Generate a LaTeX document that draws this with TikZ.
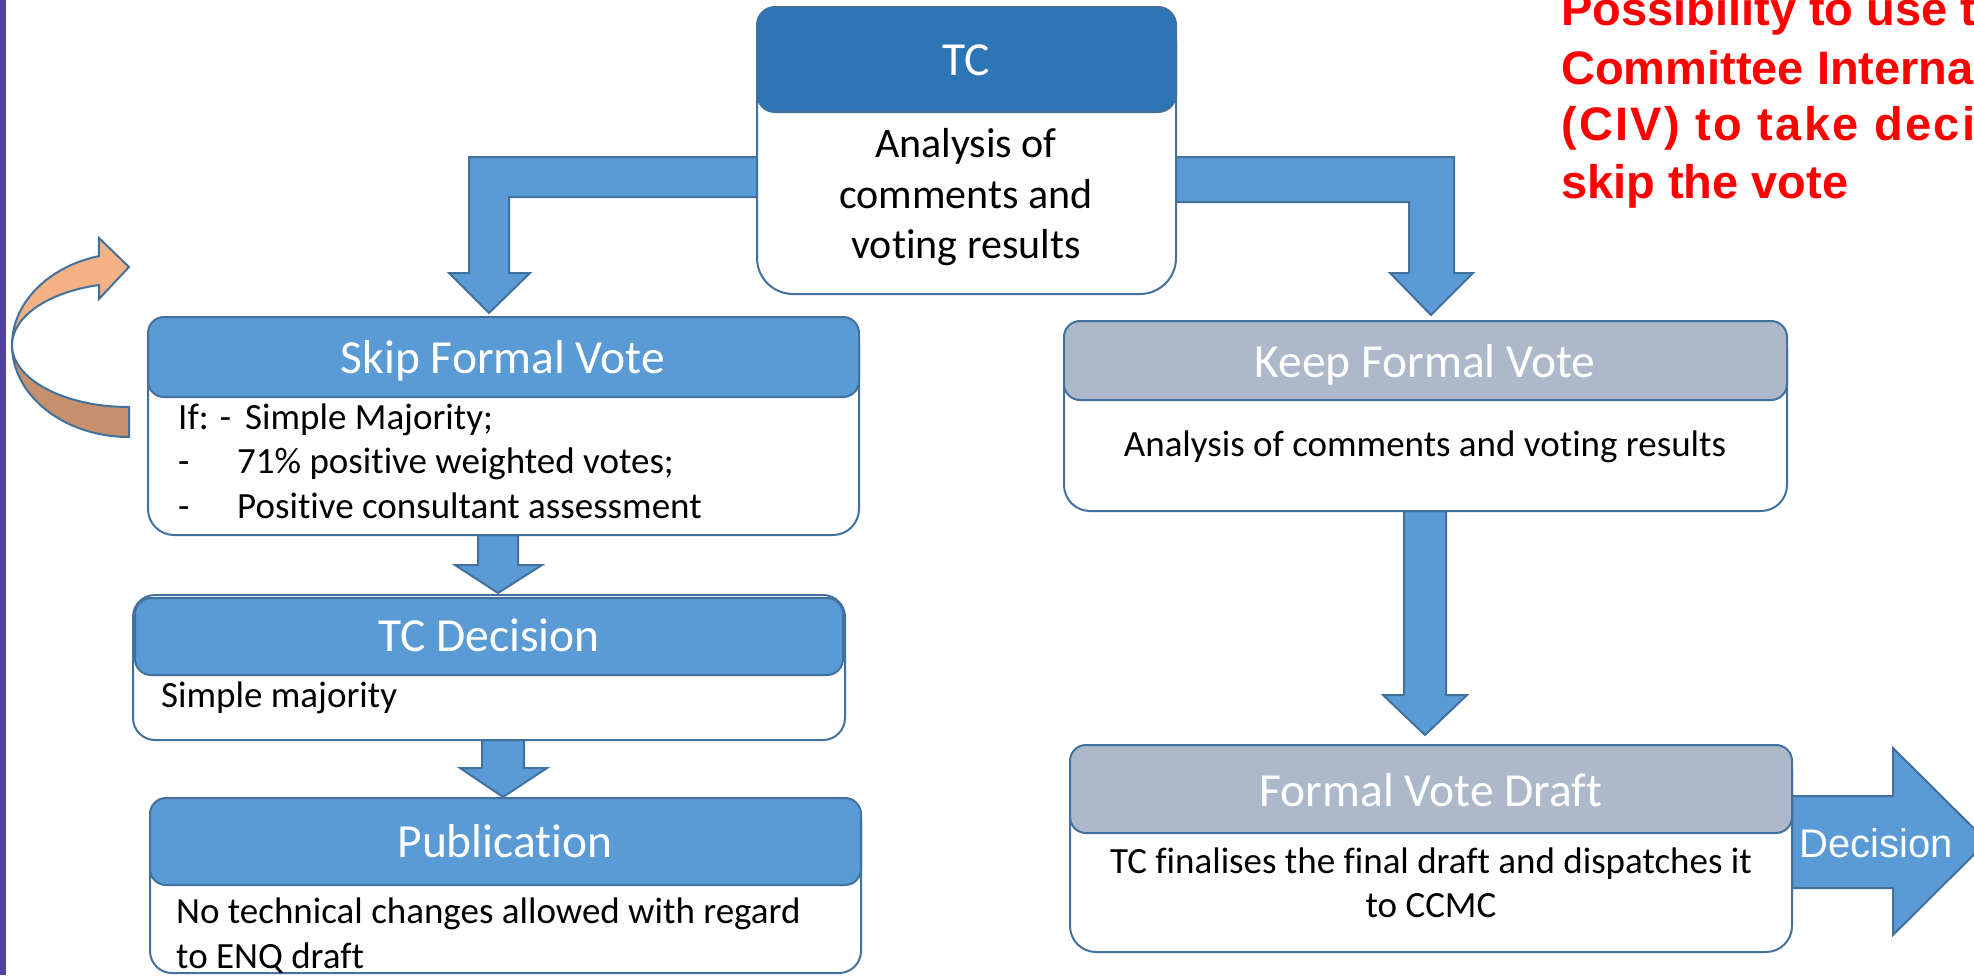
\documentclass[tikz,border=0pt]{standalone}
\usepackage{fontspec}
\setmainfont{Carlito}[Ligatures={NoCommon,NoContextual,NoRequired}]
\newfontfamily\arialfont{Liberation Sans}[Ligatures={NoCommon}]
\newcommand{\nl}{\kern0pt }
\definecolor{edge}{HTML}{41719C}
\definecolor{accent}{HTML}{5B9BD5}
\definecolor{tcblue}{HTML}{2E75B6}
\definecolor{greyhead}{HTML}{ADB9CA}
\definecolor{orangeL}{HTML}{F4B183}
\definecolor{orangeD}{HTML}{C5906B}
\definecolor{purplebar}{HTML}{5243A0}
\definecolor{notered}{HTML}{FF0000}
\begin{document}
\begin{tikzpicture}[x=1pt,y=-1pt,
  bodybox/.style={draw=edge,line width=2pt,fill=white,rounded corners=#1,inner sep=0pt,outer sep=0pt,anchor=north west},
  headbox/.style={draw=edge,line width=2pt,rounded corners=#1,inner sep=0pt,outer sep=0pt,anchor=north west},
  titletext/.style={text=white,font=\fontsize{47.5pt}{57pt}\selectfont,anchor=base,inner sep=0pt},
  bodytext/.style={text=black,font=\fontsize{37pt}{45pt}\selectfont,anchor=base west,inner sep=0pt},
  ctrtext/.style={text=black,font=\fontsize{37pt}{45pt}\selectfont,anchor=base,inner sep=0pt},
  tcbodytext/.style={text=black,font=\fontsize{42pt}{51pt}\selectfont,anchor=base,inner sep=0pt},
  redtext/.style={text=notered,font=\arialfont\bfseries\fontsize{47pt}{57pt}\selectfont,anchor=base west,inner sep=0pt},
  blockarrow/.style={fill=accent,draw=edge,line width=2pt,line join=miter},
  curvearrow/.style={draw=edge,line width=2pt,line join=miter},
]
\useasboundingbox (0,0) rectangle (1974,975);
\clip (0,0) rectangle (1974,975);

% left purple bar
\fill[purplebar] (0,0) rectangle (6,975);

% curved arrow
\path[curvearrow,fill=orangeD] (129,437) arc[start angle=90,end angle=180,x radius=117,y radius=92]
  arc[start angle=180,end angle=90,x radius=117,y radius=62] -- cycle;
\path[curvearrow,fill=orangeL] (12,345) arc[start angle=180,end angle=255.1,x radius=117,y radius=92]
  -- (99,238) -- (129,267) -- (99,299) -- (99,285)
  arc[start angle=255.1,end angle=180,x radius=117,y radius=62] -- cycle;

% block arrows
\path[blockarrow] (757,157) -- (469,157) -- (469,273) -- (449,273) -- (489,313) -- (530,273) -- (509,273) -- (509,197) -- (757,197) -- cycle;
\path[blockarrow] (1176,157) -- (1454,157) -- (1454,273) -- (1473,273) -- (1431,315) -- (1390,273) -- (1409,273) -- (1409,202) -- (1176,202) -- cycle;
\path[blockarrow] (478,535) -- (518,535) -- (518,565) -- (542,565) -- (498,593) -- (455,565) -- (478,565) -- cycle;
\path[blockarrow] (482,739) -- (524,739) -- (524,768) -- (547,768) -- (503,797) -- (460,768) -- (482,768) -- cycle;
\path[blockarrow] (1404,511) -- (1446,511) -- (1446,695) -- (1467,695) -- (1425,735) -- (1383,695) -- (1404,695) -- cycle;
\path[blockarrow] (1792,796) -- (1893,796) -- (1893,748) -- (1987,841.5) -- (1893,935) -- (1893,888) -- (1792,888) -- cycle;

% TC box
\node[bodybox=36pt,minimum width=419pt,minimum height=287pt] (tc) at (757,7) {};
\node[headbox=18pt,fill=tcblue,minimum width=419pt,minimum height=105pt] (tchead) at (757,7) {};
\node[titletext] (tctitle) at (966,75) {TC};
\node[tcbodytext] (tcl1) at (966,157) {Analysis of};
\node[tcbodytext] (tcl2) at (966,208) {comments and};
\node[tcbodytext] (tcl3) at (966,258) {vot\nl ing results};

% Skip Formal Vote
\node[bodybox=26pt,minimum width=711pt,minimum height=218pt] (skip) at (148,317) {};
\node[headbox=16pt,fill=accent,minimum width=711pt,minimum height=80pt] (skiphead) at (148,317) {};
\node[titletext] (skiptitle) at (503,373) {Skip Formal Vote};
\node[bodytext] (skipl1) at (178,429) {If: -\hspace{14pt}Simple Majority;};
\node[bodytext] (skipl2) at (178,473) {\makebox[59pt][l]{-}71\% posit\nl ive weighted votes;};
\node[bodytext] (skipl3) at (178,518) {\makebox[59pt][l]{-}Posit\nl ive consultant assessment};

% TC Decision
\node[bodybox=22pt,minimum width=712pt,minimum height=145pt] (tcd) at (133,595) {};
\node[headbox=16pt,fill=accent,minimum width=708pt,minimum height=77pt] (tcdhead) at (135,598) {};
\node[titletext] (tcdtitle) at (489,651) {TC Decision};
\node[bodytext] (tcdl1) at (161,707) {Simple majority};

% Publication
\node[bodybox=22pt,minimum width=711pt,minimum height=175pt] (pub) at (150,798) {};
\node[headbox=16pt,fill=accent,minimum width=711pt,minimum height=87pt] (pubhead) at (150,798) {};
\node[titletext] (pubtitle) at (505,857) {Publicat\nl ion};
\node[bodytext] (publ1) at (176,923) {No technical changes allowed with regard};
\node[bodytext] (publ2) at (176,968) {to ENQ draft};

% Keep Formal Vote
\node[bodybox=26pt,minimum width=723pt,minimum height=190pt] (keep) at (1064,321) {};
\node[headbox=16pt,fill=greyhead,minimum width=723pt,minimum height=79pt] (keephead) at (1064,321) {};
\node[titletext] (keeptitle) at (1425,377) {Keep Formal Vote};
\node[ctrtext] (keepl1) at (1425,456) {Analysis of comments and vot\nl ing results};

% Formal Vote Draft
\node[bodybox=26pt,minimum width=722pt,minimum height=207pt] (fvd) at (1070,745) {};
\node[headbox=16pt,fill=greyhead,minimum width=722pt,minimum height=88pt] (fvdhead) at (1070,745) {};
\node[titletext] (fvdtitle) at (1431,806) {Formal Vote Draft};
\node[ctrtext] (fvdl1) at (1431,873) {TC f\nl inalises the f\nl inal draft and dispatches it};
\node[ctrtext] (fvdl2) at (1431,917) {to CCMC};

% Decision label
\node[text=white,font=\arialfont\fontsize{40pt}{48pt}\selectfont,anchor=base,inner sep=0pt] (decision) at (1876,857) {Decision};

% red note (cut at the right edge as in the source)
\node[redtext] (note1) at (1561,25) {Possibility to use th};
\node[redtext] (note2) at (1561,84) {Committee Interna};
\node[redtext] (note3) at (1561,140) {\addfontfeature{LetterSpace=5}(CIV) to take deci};
\node[redtext] (note4) at (1561,198) {skip the vote};
\end{tikzpicture}
\end{document}
